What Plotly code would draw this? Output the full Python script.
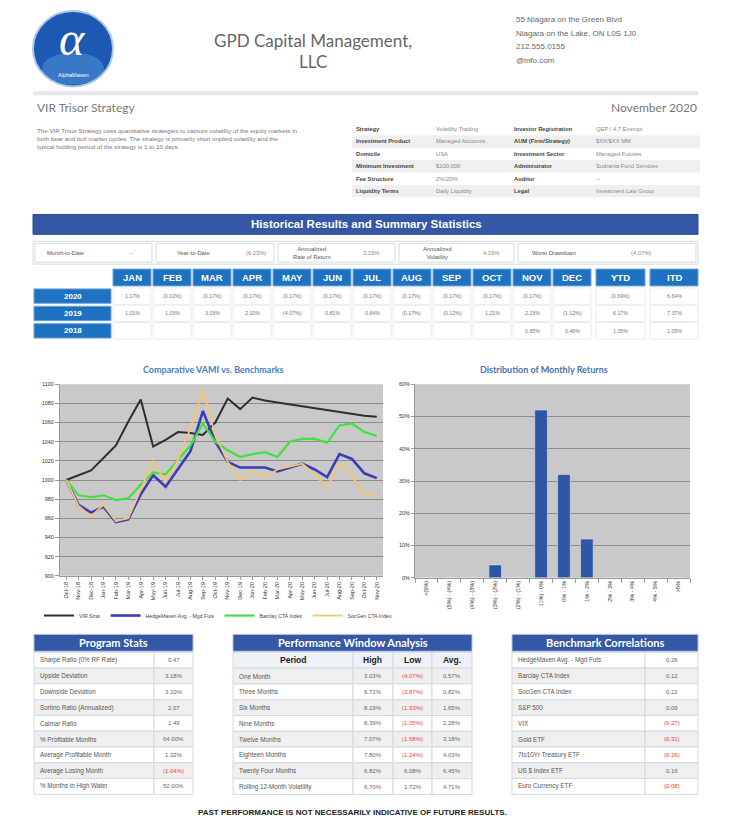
import plotly.graph_objects as go

W, H = 732, 827
FONT = "Liberation Sans"
FONT2 = "Lato"

# ---------------- data ----------------
months = ["Oct-18", "Nov-18", "Dec-18", "Jan-19", "Feb-19", "Mar-19", "Apr-19", "May-19", "Jun-19",
          "Jul-19", "Aug-19", "Sep-19", "Oct-19", "Nov-19", "Dec-19", "Jan-20", "Feb-20", "Mar-20",
          "Apr-20", "May-20", "Jun-20", "Jul-20", "Aug-20", "Sep-20", "Oct-20", "Nov-20"]
vir_strat = [1000, 1005, 1010, 1023, 1036, 1061, 1084, 1035, 1042, 1050, 1049, 1047, 1060, 1085, 1074,
             1086, 1083, 1081, 1079, 1077, 1075, 1073, 1071, 1069, 1067, 1066]
hedgemaven = [1000, 974, 966, 972, 956, 959, 985, 1005, 993, 1011, 1030, 1072, 1040, 1019, 1013, 1013,
              1013, 1009, 1013, 1017, 1011, 1003, 1027, 1022, 1007, 1002]
barclay = [1000, 984, 982, 984, 979, 981, 995, 1008, 1006, 1021, 1036, 1059, 1040, 1031, 1024, 1027,
           1029, 1024, 1040, 1043, 1043, 1039, 1057, 1059, 1050, 1046]
socgen = [1000, 973, 962, 974, 957, 960, 990, 1020, 998, 1021, 1054, 1094, 1047, 1019, 1000, 1009, 1003,
          1011, 1014, 1017, 1006, 992, 1018, 1004, 985, 983]
series_names = ["VIR Strat", "HedgeMaven Avg. - Mgd Futs", "Barclay CTA Index", "SocGen CTA Index"]

bins = ["<(5%)", "(5%) - (4%)", "(4%) - (3%)", "(3%) - (2%)", "(2%) - (1%)", "(1%) - 0%",
        "0% - 1%", "1% - 2%", "2% - 3%", "3% - 4%", "4% - 5%", ">5%"]
dist = [0, 0, 0, 0.04, 0, 0.52, 0.32, 0.12, 0, 0, 0, 0]

month_cols = ["JAN", "FEB", "MAR", "APR", "MAY", "JUN", "JUL", "AUG", "SEP", "OCT", "NOV", "DEC", "YTD", "ITD"]
years = ["2020", "2019", "2018"]
ret_2020 = ["1.17%", "(0.02%)", "(0.17%)", "(0.17%)", "(0.17%)", "(0.17%)", "(0.17%)", "(0.17%)",
            "(0.17%)", "(0.17%)", "(0.17%)", "", "(0.69%)", "6.64%"]
ret_2019 = ["1.01%", "1.03%", "3.03%", "2.10%", "(4.07%)", "0.81%", "0.64%", "(0.17%)", "(0.12%)",
            "1.21%", "2.23%", "(1.12%)", "6.17%", "7.37%"]
ret_2018 = ["", "", "", "", "", "", "", "", "", "", "0.65%", "0.46%", "1.05%", "1.05%"]

summary_labels = ["Month-to-Date", "Year-to-Date", "Annualized<br>Rate of Return", "Annualized<br>Volatility", "Worst Drawdown"]
summary_values = ["--", "(6.23%)", "3.15%", "4.15%", "(4.07%)"]

info_rows = [["Strategy", "Volatility Trading", "Investor Registration", "QEP / 4.7 Exempt"],
             ["Investment Product", "Managed Accounts", "AUM (Firm/Strategy)", "$XX/$XX MM"],
             ["Domicile", "USA", "Investment Sector", "Managed Futures"],
             ["Minimum Investment", "$100,000", "Administrator", "Sudrania Fund Services"],
             ["Fee Structure", "2%/20%", "Auditor", "--"],
             ["Liquidity Terms", "Daily Liquidity", "Legal", "Investment Law Group"]]

stats_labels = ["Sharpe Ratio (0% RF Rate)", "Upside Deviation", "Downside Deviation", "Sortino Ratio (Annualized)",
                "Calmar Ratio", "% Profitable Months", "Average Profitable Month", "Average Losing Month",
                "% Months in High Water"]
stats_values = ["0.47", "3.18%", "3.10%", "2.07", "1.49", "64.00%", "1.32%", "(1.04%)", "52.00%"]

periods = ["One Month", "Three Months", "Six Months", "Nine Months", "Twelve Months", "Eighteen Months",
           "Twenty Four Months", "Rolling 12-Month Volatility"]
per_high = ["3.03%", "6.72%", "8.19%", "8.39%", "7.07%", "7.80%", "6.82%", "6.70%"]
per_low = ["(4.07%)", "(3.87%)", "(1.93%)", "(1.05%)", "(1.68%)", "(1.24%)", "6.08%", "1.72%"]
per_avg = ["0.57%", "0.82%", "1.65%", "2.28%", "3.18%", "4.03%", "6.45%", "4.71%"]

bench_names = ["HedgeMaven Avg. - Mgd Futs", "Barclay CTA Index", "SocGen CTA Index", "S&P 500", "VIX",
               "Gold ETF", "7to10Yr Treasury ETF", "US $ Index ETF", "Euro Currency ETF"]
bench_values = ["0.26", "0.12", "0.22", "0.09", "(0.27)", "(0.31)", "(0.16)", "0.16", "(0.08)"]

address = ["55 Niagara on the Green Blvd", "Niagara on the Lake, ON L0S 1J0", "212.555.0155", "@info.com"]
description = ["The VIR Trisor Strategy uses quantitative strategies to capture volatility of the equity markets in",
               "both bear and bull market cycles. The strategy is primarily short implied volatility and the",
               "typical holding period of the strategy is 1 to 10 days."]

# ---------------- helpers ----------------
shapes, anns = [], []


def X(px):
    return px / W


def Y(py):
    return 1 - py / H


def box(x0, y0, x1, y1, fill, line="rgba(0,0,0,0)", lw=0, kind="rect"):
    shapes.append(dict(type=kind, xref="paper", yref="paper", x0=X(x0), x1=X(x1), y0=Y(y1), y1=Y(y0),
                       fillcolor=fill, line=dict(color=line, width=lw), layer="above"))


def txt(x, y, s, size=7, color="#444444", anchor="center", bold=False, family=FONT, style="normal"):
    anns.append(dict(x=X(x), y=Y(y), xref="paper", yref="paper", text=f"<b>{s}</b>" if bold else s,
                     showarrow=False, xanchor=anchor, yanchor="middle", borderpad=0,
                     font=dict(size=size, color=color, family=family, style=style)))


def neg_color(v):
    return "#FF3B3B" if v.startswith("(") else "#666666"


BANNER = "#3457A6"
CELLB = "#D5D9DF"

# ---------------- header ----------------
box(33, 8, 113, 84, "#1D58B2", "#A9C8EA", 2, kind="circle")
box(42, 50, 104, 82, "rgba(90,160,225,0.45)", kind="circle")
txt(72, 36, "α", 48, "white", family="Liberation Serif", style="italic")
txt(73, 73, "AlphaMaven", 5.5, "white")
txt(313, 38, "GPD Capital Management,", 17, "#666666", family=FONT2)
txt(313, 59, "LLC", 17, "#666666", family=FONT2)
for i, line in enumerate(address):
    txt(515, 17 + 13.5 * i, line, 8, "#666666", anchor="left")
box(33, 89, 698, 93, "#E4E7EB")
txt(36, 105, "VIR Trisor Strategy", 12, "#777777", anchor="left", family=FONT2)
txt(698, 105, "November 2020", 12, "#777777", anchor="right", family=FONT2)
for i, line in enumerate(description):
    txt(36, 128 + 8.5 * i, line, 6.2, "#777777", anchor="left")
info_x = [355, 435, 513, 595]
for r, row in enumerate(info_rows):
    yc = 127 + 12.5 * r
    if r % 2 == 1:
        box(352, yc - 6.25, 700, yc + 6.25, "#EFEFEF")
    for c, val in enumerate(row):
        txt(info_x[c], yc, val, 5.8, "#444444" if c % 2 == 0 else "#888888", anchor="left", bold=(c % 2 == 0))

# ---------------- historical results ----------------
box(33, 213, 698, 233, BANNER, "#2A4A90", 1)
txt(366, 223, "Historical Results and Summary Statistics", 11.5, "white", bold=True)
box(33, 240, 698, 263, "white", CELLB, 1)
cells = [(35, 152), (156, 274), (278, 395), (399, 514), (518, 696)]
lab_x = [65, 193, 312, 437, 554]
val_x = [131, 256, 371, 491, 641]
for i, (a, b) in enumerate(cells):
    box(a, 242, b, 261, "white", CELLB, 1)
    txt(lab_x[i], 251.5, summary_labels[i], 5.8, "#555555")
    txt(val_x[i], 251.5, summary_values[i], 5.8, "#888888")

col_left = [113 + 40 * i for i in range(12)] + [596, 650]
col_right = [151 + 40 * i for i in range(12)] + [645, 698]
MB = "#1E72C2"
for i, m in enumerate(month_cols):
    box(col_left[i], 268, col_right[i], 285, MB, "#6FA3DA", 1)
    txt((col_left[i] + col_right[i]) / 2, 276.5, m, 9.5, "white", bold=True)
for r, (yr, vals) in enumerate(zip(years, [ret_2020, ret_2019, ret_2018])):
    y0 = 288 + 17.5 * r
    box(34, y0, 111, y0 + 14.5, MB, "#6FA3DA", 1)
    txt(72.5, y0 + 7.25, yr, 8, "white", bold=True)
    for i, v in enumerate(vals):
        box(col_left[i], y0 - 1, col_right[i], y0 + 15.5, "white", "#E8EDF4", 1)
        txt((col_left[i] + col_right[i]) / 2, y0 + 7.25, v, 5.3, "#777777")

# ---------------- chart titles ----------------
txt(213, 369, "Comparative VAMI vs. Benchmarks", 9, "#4A7CC2", bold=True, family=FONT2)
txt(544, 369, "Distribution of Monthly Returns", 9, "#4A6FB8", bold=True, family=FONT2)

# ---------------- bottom tables ----------------
RH = 15.9
# Program Stats
box(34, 636, 193, 653, BANNER, "#AFC0DF", 1)
txt(113.5, 644.5, "Program Stats", 11, "white", bold=True, family=FONT2)
for i, (lab, val) in enumerate(zip(stats_labels, stats_values)):
    y0 = 654 + RH * i
    fill = "white" if i % 2 == 0 else "#EFEFEF"
    box(34, y0, 154, y0 + RH, fill, CELLB, 1)
    box(154, y0, 193, y0 + RH, fill, CELLB, 1)
    txt(39, y0 + RH / 2, lab, 6.3, "#555555", anchor="left")
    txt(173.5, y0 + RH / 2, val, 6, neg_color(val))

# Performance Window Analysis
box(233, 636, 472, 653, BANNER, "#AFC0DF", 1)
txt(352.5, 644.5, "Performance Window Analysis", 11, "white", bold=True, family=FONT2)
pcols = [(233, 353), (353, 393), (393, 432), (432, 472)]
for (a, b), h in zip(pcols, ["Period", "High", "Low", "Avg."]):
    box(a, 654, b, 670, "#EEF2F8", CELLB, 1)
    txt((a + b) / 2, 662, h, 8.5, "#222222", bold=True)
for i in range(len(periods)):
    y0 = 670 + RH * i
    fill = "#EFEFEF" if i % 2 == 0 else "white"
    row = [periods[i], per_high[i], per_low[i], per_avg[i]]
    for j, (a, b) in enumerate(pcols):
        box(a, y0, b, y0 + RH, fill, CELLB, 1)
        if j == 0:
            txt(a + 5, y0 + RH / 2, row[j], 6.3, "#555555", anchor="left")
        else:
            txt((a + b) / 2, y0 + RH / 2, row[j], 6, neg_color(row[j]))

# Benchmark Correlations
box(512, 636, 698, 653, BANNER, "#AFC0DF", 1)
txt(605, 644.5, "Benchmark Correlations", 11, "white", bold=True, family=FONT2)
for i, (lab, val) in enumerate(zip(bench_names, bench_values)):
    y0 = 654 + RH * i
    fill = "white" if i % 2 == 0 else "#EFEFEF"
    box(512, y0, 645, y0 + RH, fill, CELLB, 1)
    box(645, y0, 698, y0 + RH, fill, CELLB, 1)
    txt(517, y0 + RH / 2, lab, 6.3, "#555555", anchor="left")
    txt(671.5, y0 + RH / 2, val, 6, neg_color(val))

txt(352, 815, "PAST PERFORMANCE IS NOT NECESSARILY INDICATIVE OF FUTURE RESULTS.", 8, "#222222", bold=True)

# ---------------- charts ----------------
fig = go.Figure()
colors = ["#2E2E2E", "#3C3CB6", "#3FE23F", "#F4C672"]
widths = [2, 2.6, 2.2, 1.8]
for name, ys, c, w in zip(series_names, [vir_strat, hedgemaven, barclay, socgen], colors, widths):
    fig.add_trace(go.Scatter(x=months, y=ys, mode="lines", name=name, line=dict(color=c, width=w),
                             xaxis="x", yaxis="y"))
fig.add_trace(go.Bar(x=bins, y=dist, marker=dict(color="#2F56A5"), showlegend=False,
                     xaxis="x2", yaxis="y2"))

tickfont = dict(size=5.5, color="#333333", family=FONT)
fig.update_layout(
    width=W, height=H, margin=dict(l=0, r=0, t=0, b=0, pad=0),
    paper_bgcolor="white", plot_bgcolor="#C9C9C9",
    shapes=shapes, annotations=anns, bargap=0.45,
    xaxis=dict(domain=[X(60), X(383)], type="category", tickangle=-90, tickfont=tickfont,
               showgrid=False, showline=True, linecolor="#9A9A9A", ticks="outside", ticklen=3,
               tickcolor="#9A9A9A", range=[-0.5, 25.5], anchor="y", fixedrange=True),
    yaxis=dict(domain=[Y(577), Y(384)], range=[900, 1100], dtick=20, tickfont=tickfont,
               gridcolor="#8C8C8C", gridwidth=1, showline=True, linecolor="#9A9A9A",
               ticks="outside", ticklen=4, tickcolor="#9A9A9A", zeroline=False, anchor="x"),
    xaxis2=dict(domain=[X(415), X(690)], type="category", tickangle=-90, tickfont=tickfont,
                showgrid=False, showline=True, linecolor="#9A9A9A", ticks="outside", ticklen=4,
                tickcolor="#9A9A9A", tickson="boundaries", anchor="y2"),
    yaxis2=dict(domain=[Y(579), Y(384)], range=[0, 0.6], dtick=0.1, tickformat=".0%", tickfont=tickfont,
                gridcolor="#8C8C8C", gridwidth=1, showline=True, linecolor="#9A9A9A",
                ticks="outside", ticklen=3, tickcolor="#9A9A9A", zeroline=False, anchor="x2"),
    legend=dict(orientation="h", x=X(218), xanchor="center", y=Y(617), yanchor="middle",
                font=dict(size=5.2, color="#444444", family=FONT), bgcolor="rgba(0,0,0,0)",
                itemwidth=30, tracegroupgap=0),
    showlegend=True,
)

fig.write_html("out.html", config={"displayModeBar": False},
               post_script="document.body.style.margin='0';document.body.style.overflow='hidden';")
